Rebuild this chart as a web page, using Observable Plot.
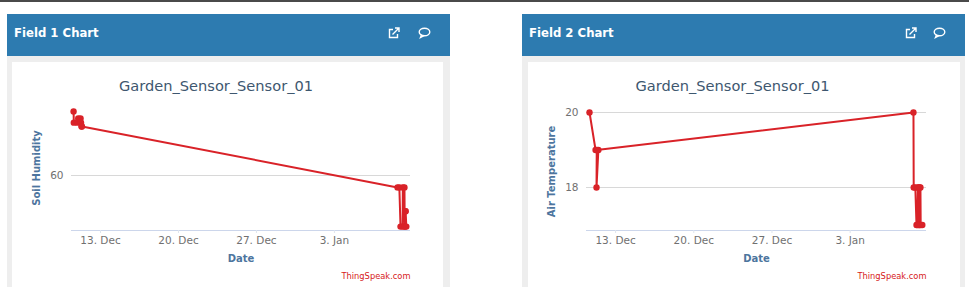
<!DOCTYPE html>
<html>
<head>
<meta charset="utf-8">
<script src="https://cdn.jsdelivr.net/npm/d3@7"></script>
<script src="https://cdn.jsdelivr.net/npm/@observablehq/plot@0.6"></script>
<style>
  html, body { margin: 0; padding: 0; background: #fff; width: 969px; height: 287px; overflow: hidden; font-family: "DejaVu Sans", sans-serif; }
  #topline { position: absolute; left: 0; top: 0; width: 969px; height: 2px; background: #4a4a4a; }
  .panel { position: absolute; top: 14px; width: 443px; height: 273px; background: #eeeeee; }
  .head { position: absolute; left: 0; top: 0; width: 443px; height: 42px; background: #2d7bb0; color: #fff; font: bold 11.7px/39px "DejaVu Sans", sans-serif; text-indent: 7px; }
  .head svg { position: absolute; top: 13px; overflow: visible; }
  .body { position: absolute; top: 48px; height: 225px; background: #fff; }
  .ctitle { position: absolute; left: 0; top: 15px; text-align: center; font: 14.6px "DejaVu Sans", sans-serif; color: #3e576f; }
  .chart { position: absolute; left: 0; top: 0; }
</style>
</head>
<body>
<div id="topline"></div>
<div id="root"></div>
<script>
const panelTitles = ["Field 1 Chart", "Field 2 Chart"];
const chartTitle = "Garden_Sensor_Sensor_01";
const yLabels = ["Soil Humidity", "Air Temperature"];
const xLabel = ["Date"];
const credit = ["ThingSpeak.com"];
const tickDates = ["2020-12-13", "2020-12-20", "2020-12-27", "2021-01-03"];
const tickNames = ["13. Dec", "20. Dec", "27. Dec", "3. Jan"];

const soilTimes = [
  "2020-12-10T14:00", "2020-12-10T14:30", "2020-12-10T22:00", "2020-12-11T00:00", "2020-12-11T05:00",
  "2020-12-11T06:00", "2020-12-11T07:00", "2020-12-11T08:00",
  "2021-01-08T16:00", "2021-01-08T20:00", "2021-01-08T22:30", "2021-01-09T03:00", "2021-01-09T03:30",
  "2021-01-09T07:00", "2021-01-09T07:30", "2021-01-09T08:00", "2021-01-09T09:00", "2021-01-09T09:30", "2021-01-09T11:00"
];
const soilValues = [
  78.3, 75.1, 75.1, 76.3, 76.3,
  75.1, 74, 74,
  56.6, 56.6, 45.4, 45.4, 56.6,
  56.6, 45.4, 45.4, 49.8, 49.8, 45.4
];
const tempTimes = [
  "2020-12-10T16:00", "2020-12-11T05:00", "2020-12-11T11:00", "2020-12-11T07:00", "2020-12-11T07:30",
  "2021-01-08T16:00", "2021-01-08T16:30", "2021-01-08T20:00", "2021-01-08T22:30", "2021-01-09T00:30",
  "2021-01-09T01:30", "2021-01-09T03:00", "2021-01-09T03:30", "2021-01-09T05:00", "2021-01-09T05:30",
  "2021-01-09T07:00", "2021-01-09T07:30", "2021-01-09T11:00"
];
const tempValues = [
  20, 19, 19, 18, 19,
  20, 18, 18, 17, 17,
  18, 18, 17, 17, 18,
  18, 17, 17
];

const parse = s => new Date(s + (s.length > 10 ? ":00Z" : "T00:00:00Z"));
const ticks = tickDates.map(parse);
const tickLabel = d => tickNames[ticks.findIndex(t => +t === +d)];
const xDomain = [parse("2020-12-10T09:30"), parse("2021-01-09T20:00")];

function drawChart(times, values, opts) {
  const rows = times.map((t, i) => ({date: parse(t), value: values[i]}));
  return Plot.plot({
    width: opts.width,
    height: 225,
    marginLeft: opts.marginLeft,
    marginRight: opts.marginRight,
    marginTop: opts.marginTop,
    marginBottom: 57,
    style: {background: "transparent", overflow: "visible", fontFamily: "DejaVu Sans, sans-serif"},
    x: {type: "utc", domain: xDomain},
    y: {domain: opts.yDomain},
    marks: [
      Plot.ruleY(opts.yTicks, {stroke: "#d8d8d8", strokeWidth: 1}),
      Plot.ruleY([opts.yDomain[0]], {stroke: "#ccd6eb", strokeWidth: 1}),
      Plot.axisX({ticks: ticks, tickFormat: tickLabel, tickSize: 3, stroke: "#dfe5ee", fill: "#707070", tickPadding: 3, fontSize: 10.5, label: null}),
      Plot.axisY({ticks: opts.yTicks, tickFormat: d => String(d), tickSize: 0, tickPadding: 8, fill: "#707070", fontSize: 10.5, label: null}),
      Plot.text(xLabel, {frameAnchor: "bottom", dy: 31, fill: "#4d759e", fontSize: 10, fontWeight: "bold"}),
      Plot.text([opts.yLabel], {frameAnchor: "left", textAnchor: "middle", rotate: -90, dx: -35, fill: "#4d759e", fontSize: 10, fontWeight: "bold"}),
      Plot.text(credit, {frameAnchor: "bottom-right", textAnchor: "end", dy: 48, fill: "#d62020", fontSize: 8.3}),
      Plot.line(rows, {x: "date", y: "value", stroke: "#d92228", strokeWidth: 2, curve: "linear"}),
      Plot.dot(rows, {x: "date", y: "value", fill: "#d92228", r: 3.2, stroke: "none"})
    ]
  });
}

const configs = [
  {left: 7, bodyLeft: 5, bodyWidth: 431, titleWidth: 408, icons: [381, 411], times: soilTimes, values: soilValues,
   plot: {width: 431, marginLeft: 59, marginRight: 33, marginTop: 43, yDomain: [44.29, 80], yTicks: [60], yLabel: yLabels[0]}},
  {left: 522, bodyLeft: 6, bodyWidth: 432, titleWidth: 409, icons: [383, 411], times: tempTimes, values: tempValues,
   plot: {width: 432, marginLeft: 58, marginRight: 34, marginTop: 50, yDomain: [16.853, 20], yTicks: [18, 20], yLabel: yLabels[1]}}
];

const root = document.getElementById("root");
configs.forEach((c, i) => {
  const panel = document.createElement("div");
  panel.className = "panel";
  panel.style.left = c.left + "px";
  const iconA = `<svg style="left:${c.icons[0]}px" width="12" height="12" viewBox="0 0 12 12" fill="none" stroke="#fff" stroke-width="1.4"><path d="M9.5 7v3.5h-8v-8H5"/><path d="M4.5 7.5 10.5 1.5M7 1h4v4"/></svg>`;
  const iconB = `<svg style="left:${c.icons[1]}px" width="13" height="12" viewBox="0 0 13 12" fill="none" stroke="#fff" stroke-width="1.4"><ellipse cx="6.5" cy="5" rx="5.3" ry="3.8"/><path d="M3.5 8 2.5 10.5 6 8.7"/></svg>`;
  panel.innerHTML = `<div class="head">${panelTitles[i]}${iconA}${iconB}</div>` +
    `<div class="body" style="left:${c.bodyLeft}px;width:${c.bodyWidth}px"><div class="ctitle" style="width:${c.titleWidth}px">${chartTitle}</div></div>`;
  root.appendChild(panel);
  const svg = drawChart(c.times, c.values, c.plot);
  svg.classList.add("chart");
  panel.querySelector(".body").appendChild(svg);
  svg.style.position = "absolute";
  svg.style.left = "0";
  svg.style.top = "0";
});
</script>
</body>
</html>
